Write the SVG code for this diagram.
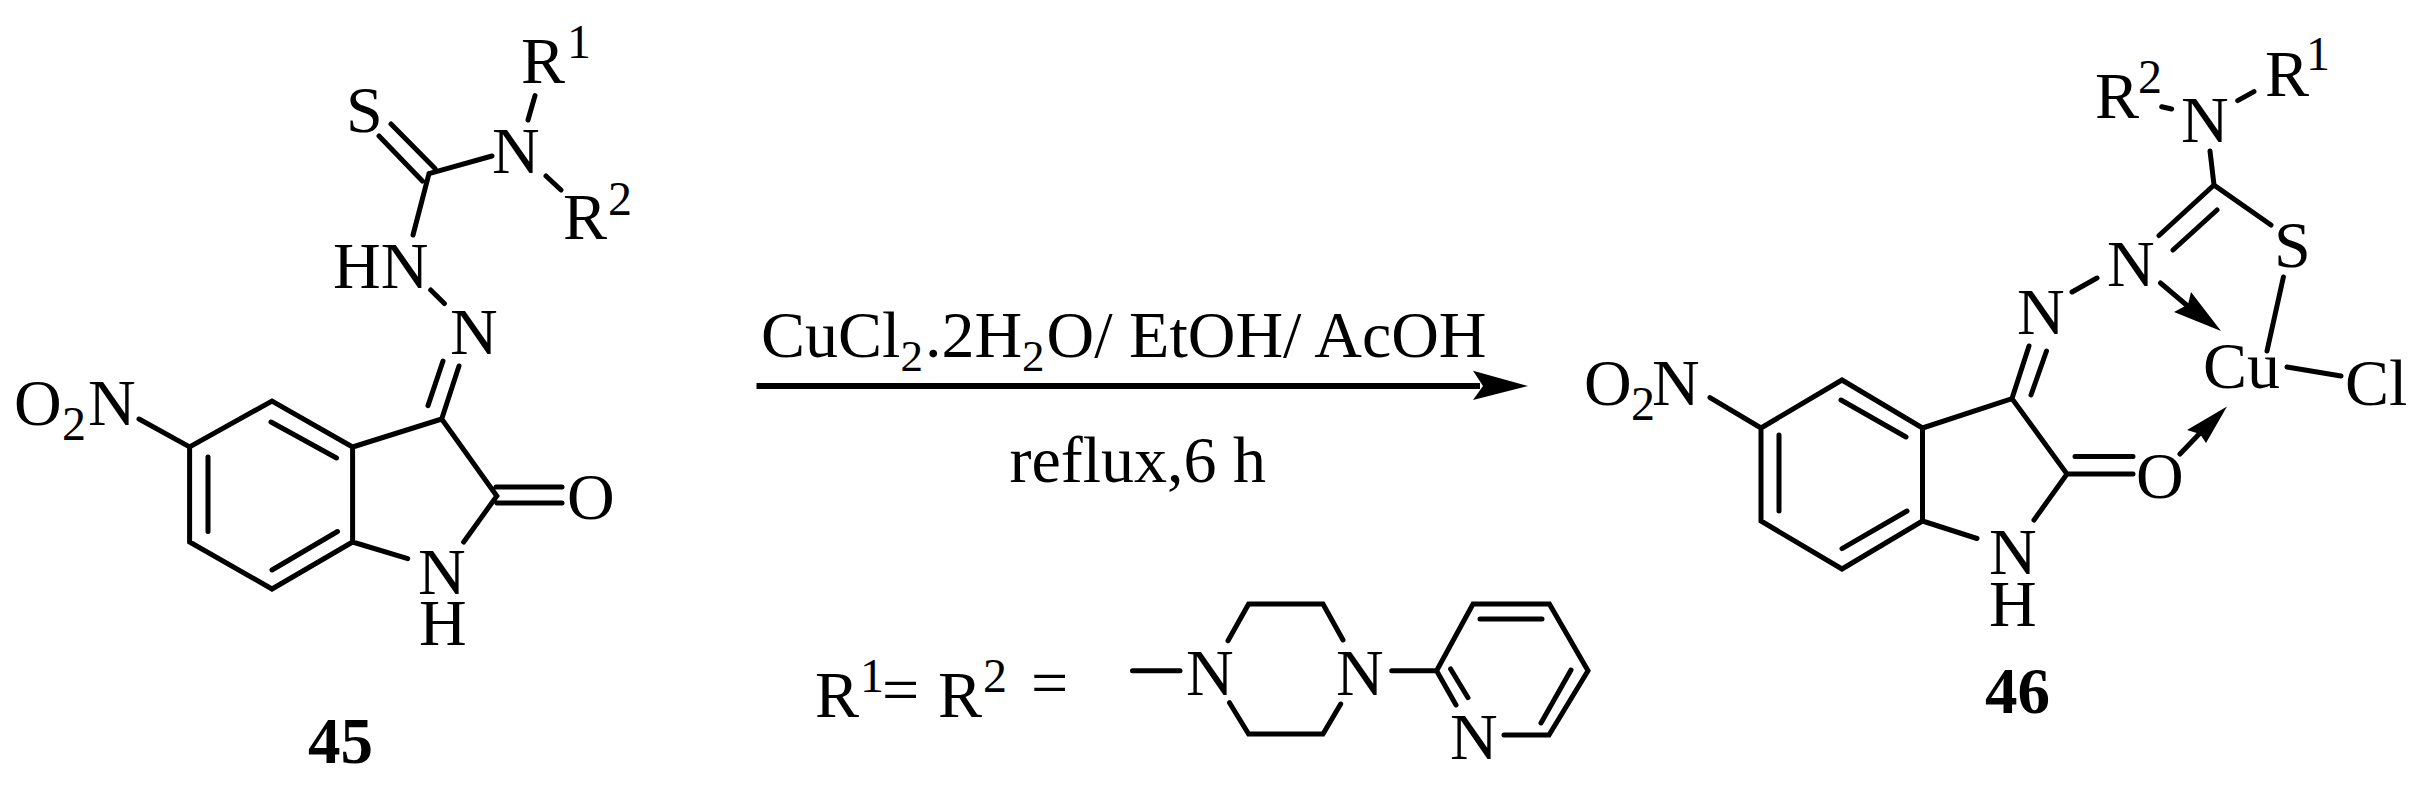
<svg xmlns="http://www.w3.org/2000/svg" width="2424" height="789" viewBox="0 0 2424 789">
<style>
text{font-family:"Liberation Serif","Times New Roman",serif;fill:#000}
.a{font-size:66px}
.s{font-size:48px}
.r{font-size:66px}
.rs{font-size:45px}
.b{font-size:65px;font-weight:bold}
.bond{fill:none;stroke:#000;stroke-width:5;stroke-linecap:round;stroke-linejoin:miter}
</style>
<rect width="2424" height="789" fill="#fff"/>
<g id="connectors">
<path id="bonds-45" class="bond" d="M139 419L189.600 447L272 401L352.600 447V542L272 589L189.600 542V447M271 422L336.500 458M208 457V531.500M272 570L337.500 531.500M352.600 447L441.700 419L496.800 496L463.700 542M352.600 542L407.700 558.600M496 487H562M497 503H562M441.700 419L459 366M428 405.600L443 361M444.400 303.500L430.700 290M429 173.600L413 235M435 168.600L391 124M422.400 181L379 136M429 173.600L492 156M528 120L535 95.600M546 176L561 190"/>
<path id="bonds-46" class="bond" d="M1710 397.600L1761 428L1842 380L1922.500 428V521L1842 569L1761 521V428M1841 400L1906 437M1779 435V511M1842 548.600L1907 511M1922.500 428L2012 398.600L2067 474L2034 520M1922.500 521L1977 538.500M2067 474H2133M2075 456.500H2133M2012 398.600L2029 346M2031 395L2046.500 351M2072 292L2097 278M2214 185L2159 235.500M2217 210L2173 250M2271 225L2214 185L2210 151M2237.700 100.600L2254 91.600M2171.600 109L2161.700 106.700M2283.400 277L2267 351M2287 367L2341 376M2160.500 283L2190 308M2180 454L2203 430"/>
<path id="arrowhead-n-cu" d="M2221 331L2174 312L2188 304.500L2191 292Z"/>
<path id="arrowhead-o-cu" d="M2227 406.600L2187 430L2200 434L2206 443Z"/>
<path id="reaction-arrow" d="M756.500 383H1480V389H756.500Z M1528 386L1473 370.700L1483 386L1473 400Z"/>
<path id="bonds-substituent" class="bond" d="M1132.500 670.700H1180M1228 640.700L1248.600 604H1323L1343 640M1229.500 702.700L1248.600 734H1323L1340.700 704M1391.700 670.700H1436.600M1456 705L1436.600 670.700L1473 604H1549.400L1588 670.700L1549 735H1504M1480 619H1542M1571 670L1541 723M1450.600 669L1468 697.700"/>
</g>
<g id="compound-45">
<text class="a" x="521" y="83">R</text><text class="s" x="567" y="58">1</text>
<text class="a" x="346" y="132">S</text>
<text class="a" x="492" y="173">N</text>
<text class="a" x="563" y="239">R</text><text class="s" x="608" y="215">2</text>
<text class="a" x="333" y="288">HN</text>
<text class="a" x="450" y="354">N</text>
<text class="a" x="14" y="425">O</text><text class="s" x="62" y="440">2</text><text class="a" x="88" y="425">N</text>
<text class="a" x="567" y="519">O</text>
<text class="a" x="418" y="594">N</text>
<text class="a" x="419" y="645">H</text>
<text class="b" x="308" y="763">45</text>
</g>
<g id="compound-46">
<text class="a" x="2095" y="118">R</text><text class="s" x="2138" y="93">2</text>
<text class="a" x="2181" y="142">N</text>
<text class="a" x="2265" y="96">R</text><text class="s" x="2306" y="70">1</text>
<text class="a" x="2274" y="267">S</text>
<text class="a" x="2107" y="286">N</text>
<text class="a" x="2017" y="334">N</text>
<text class="a" x="2203" y="388">Cu</text>
<text class="a" x="2345" y="405">Cl</text>
<text class="a" x="1584" y="405">O</text><text class="s" x="1631" y="420">2</text><text class="a" x="1652" y="405">N</text>
<text class="a" x="2136" y="498">O</text>
<text class="a" x="1989" y="574">N</text>
<text class="a" x="1989" y="626">H</text>
<text class="b" x="1985" y="713">46</text>
</g>
<g id="reaction-conditions">
<text class="r" x="761" y="357">CuCl<tspan class="rs" dy="14">2</tspan><tspan dy="-14" dx="2">.2H</tspan><tspan class="rs" dy="14">2</tspan><tspan dy="-14" dx="2">O/ EtOH/ AcOH</tspan></text>
<text class="r" x="1009.500" y="482">reflux,6 h</text>
</g>
<g id="substituent">
<text class="r" x="815" y="717">R<tspan class="s" x="860" y="692">1</tspan><tspan x="882" y="711.500">=</tspan></text>
<text class="r" x="938" y="717">R</text><text class="s" x="983" y="692">2</text><text class="r" x="1031" y="705">=</text>
<text class="r" x="1186" y="695">N</text>
<text class="r" x="1336" y="695">N</text>
<text class="r" x="1450" y="759">N</text>
</g>
</svg>
